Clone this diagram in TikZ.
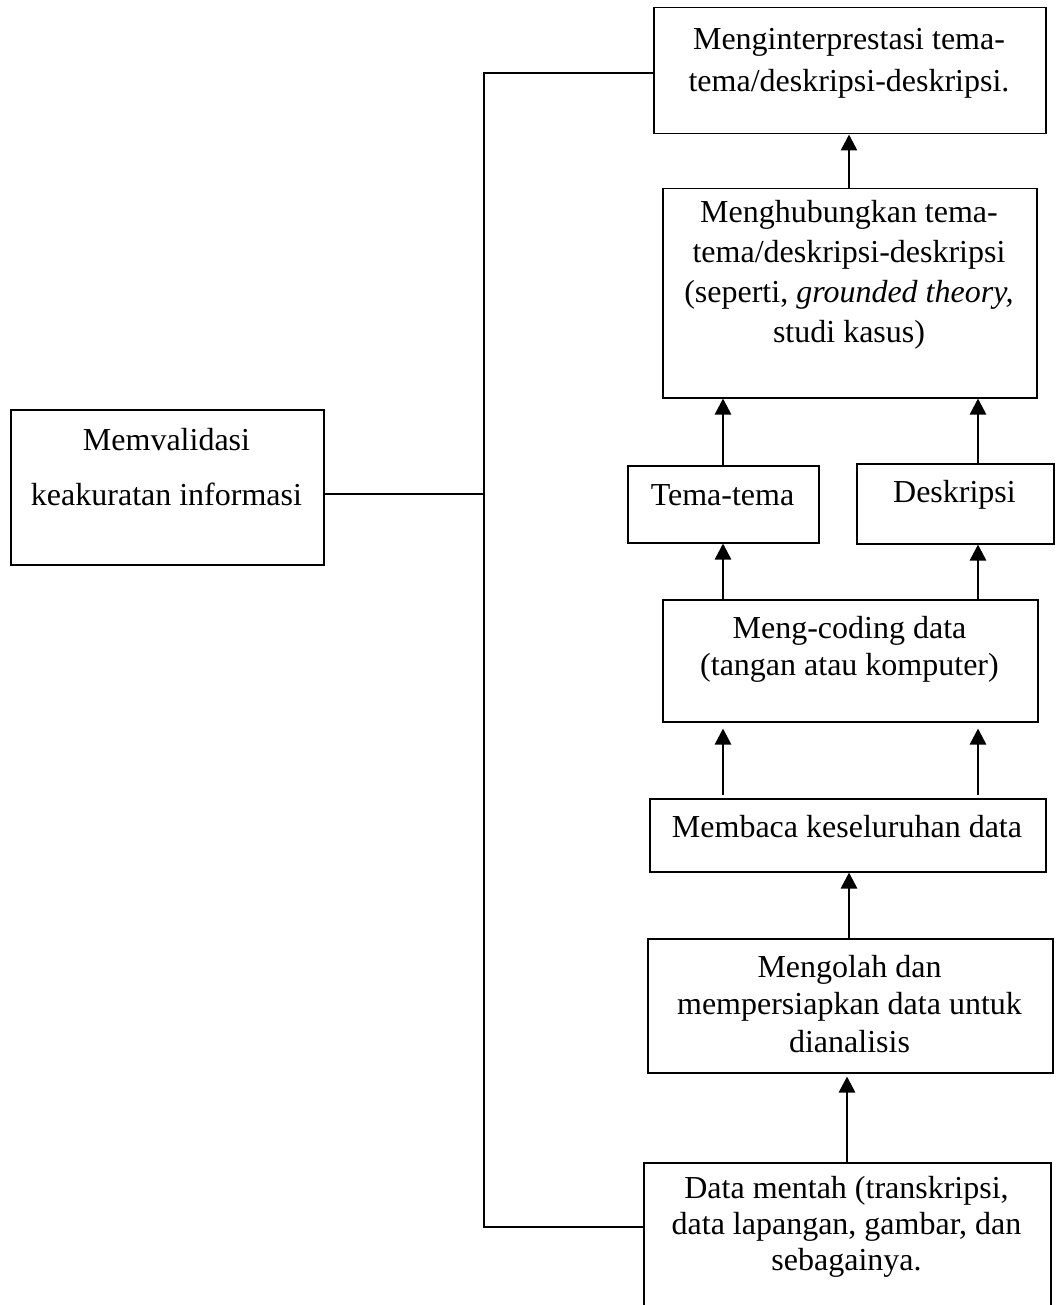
\documentclass[tikz,border=0pt]{standalone}
\usepackage{fontspec}
\setmainfont{Liberation Serif}
\usetikzlibrary{arrows.meta}
\newcommand{\boxlines}[2]{\parbox[t]{420pt}{\centering\fontsize{32}{#1}\selectfont #2}}
\begin{document}
\begin{tikzpicture}[x=1pt,y=-1pt,
  box/.style={draw, line width=1.5pt, inner sep=0pt, anchor=north west},
  txt/.style={inner sep=0pt, anchor=base},
  arr/.style={line width=2.6pt, -{Triangle[width=16pt,length=16pt]}},
  link/.style={line width=1.6pt}]
\useasboundingbox (0,0) rectangle (1056,1305);
\clip (0,0) rectangle (1056,1305);

% boxes
\node[box, minimum width=392pt, minimum height=126pt] (interp) at (653,7) {};
\node[box, minimum width=374pt, minimum height=209pt] (hub) at (662,188) {};
\node[box, minimum width=191pt, minimum height=77pt] (tema) at (627,465) {};
\node[box, minimum width=197pt, minimum height=80pt] (desk) at (856,463) {};
\node[box, minimum width=375pt, minimum height=122pt] (coding) at (662,599) {};
\node[box, minimum width=396pt, minimum height=73pt] (baca) at (649,798) {};
\node[box, minimum width=405pt, minimum height=134pt] (olah) at (647,938) {};
\node[box, minimum width=407pt, minimum height=200pt] (data) at (643,1162) {};
\node[box, minimum width=313pt, minimum height=155pt] (valid) at (10,409) {};

% texts
\node[txt] (interp-t) at (849,50) {\boxlines{42pt}{Menginterprestasi tema-\\tema/deskripsi-deskripsi.}};
\node[txt] (hub-t) at (849,223) {\boxlines{40pt}{Menghubungkan tema-\\tema/deskripsi-deskripsi\\(seperti, \textit{grounded theory,}\\studi kasus)}};
\node[txt] (tema-t) at (722.5,505) {\boxlines{40pt}{Tema-tema}};
\node[txt] (desk-t) at (954.5,502) {\boxlines{40pt}{Deskripsi}};
\node[txt] (coding-t) at (849.5,638) {\boxlines{37pt}{Meng-coding data\\(tangan atau komputer)}};
\node[txt] (baca-t) at (847,837) {\boxlines{40pt}{Membaca keseluruhan data}};
\node[txt] (olah-t) at (849.5,977) {\boxlines{37.5pt}{Mengolah dan\\mempersiapkan data untuk\\dianalisis}};
\node[txt] (data-t) at (846.5,1198) {\boxlines{36pt}{Data mentah (transkripsi,\\data lapangan, gambar, dan\\sebagainya.}};
\node[txt] (valid-t) at (166.5,450) {\boxlines{55pt}{Memvalidasi\\keakuratan informasi}};

% columns
\coordinate (colL) at (723,0);
\coordinate (colR) at (978,0);
\coordinate (colM) at (849,0);
\coordinate (colD) at (847,0);

% arrows
\draw[arr] (hub.north -| colM) -- (interp.south -| colM);
\draw[arr] (tema.north -| colL) -- (hub.south -| colL);
\draw[arr] (desk.north -| colR) -- (hub.south -| colR);
\draw[arr] (coding.north -| colL) -- (tema.south -| colL);
\draw[arr] (coding.north -| colR) -- (desk.south -| colR);
\draw[arr, shorten >=6pt, shorten <=3pt] (baca.north -| colL) -- (coding.south -| colL);
\draw[arr, shorten >=6pt, shorten <=3pt] (baca.north -| colR) -- (coding.south -| colR);
\draw[arr] (olah.north -| colM) -- (baca.south -| colM);
\draw[arr, shorten >=3pt] (data.north -| colD) -- (olah.south -| colD);

% validation links
\coordinate (spineT) at (484,73);
\coordinate (spineM) at (484,494);
\coordinate (spineB) at (484,1227);
\draw[link] (interp.west |- spineT) -- (spineT) -- (spineB) -- (data.west |- spineB);
\draw[link] (valid.east |- spineM) -- (spineM);
\end{tikzpicture}
\end{document}
